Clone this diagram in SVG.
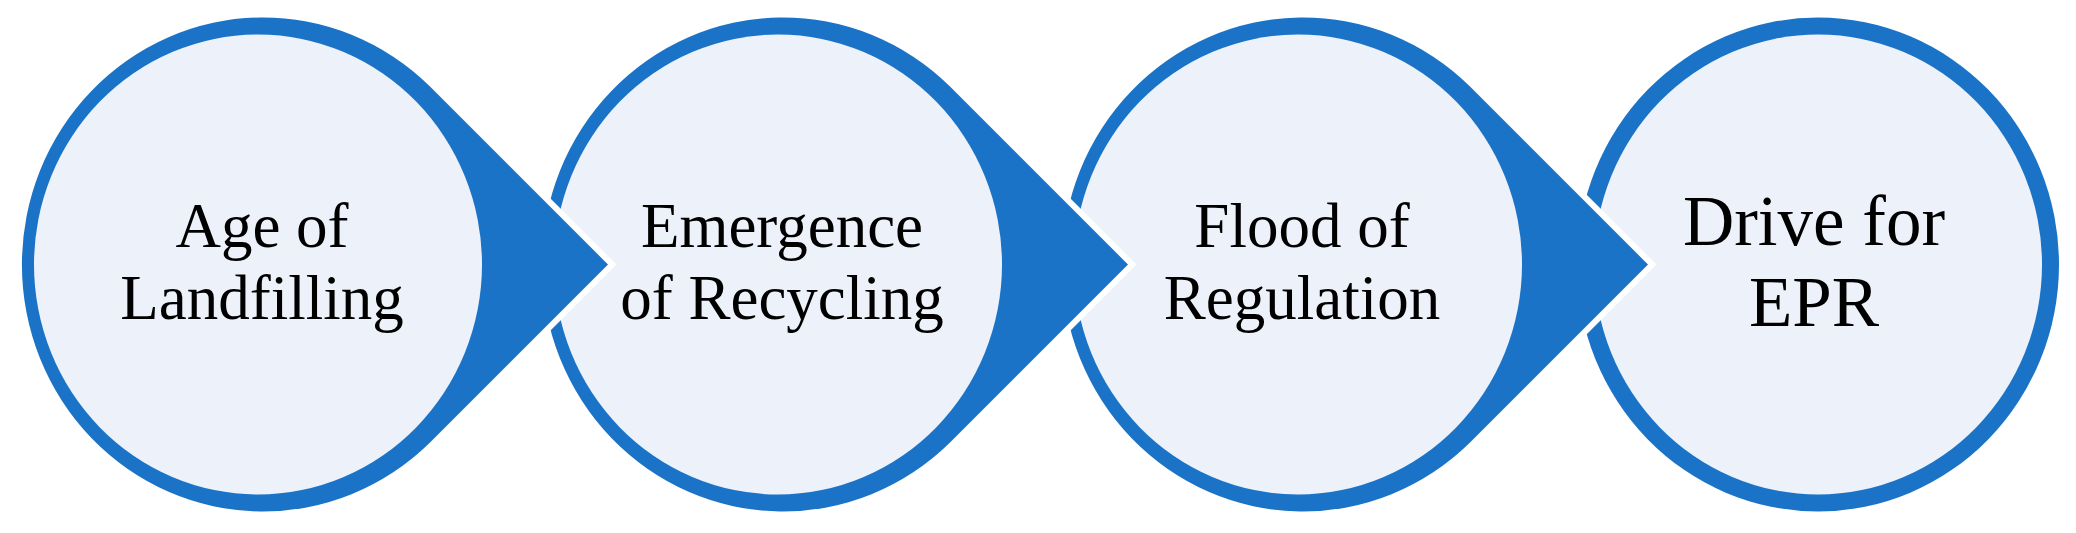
<svg xmlns="http://www.w3.org/2000/svg" width="2076" height="533" viewBox="0 0 2076 533">
<defs>
<path id="drop" d="M350,0 L172,-178 A241,247 0 1 0 172,178 Z"/>
</defs>
<style>
.dark{fill:#1a73c6;stroke:#fff;stroke-width:12;paint-order:stroke;stroke-linejoin:miter}
.ring{fill:#1a73c6}
.in{fill:#edf2fa}
text{font-family:"Liberation Serif","Times New Roman",serif;fill:#000;text-anchor:middle}
.t{font-size:63px}
.b{font-size:71px}
</style>
<rect width="2076" height="533" fill="#fff"/>
<g id="connectors"></g>
<g id="node4" transform="translate(1818,264.5)">
<ellipse class="ring" rx="241" ry="247"/>
<ellipse class="in" rx="224" ry="230"/>
<text class="b" x="-4" y="-20">Drive for</text><text class="b" x="-4" y="61">EPR</text>
</g>
<g id="node3" transform="translate(1298,264.5)">
<use href="#drop" class="dark"/>
<ellipse class="in" rx="224" ry="230"/>
<text class="t" x="4" y="-18">Flood of</text><text class="t" x="4" y="54">Regulation</text>
</g>
<g id="node2" transform="translate(778,264.5)">
<use href="#drop" class="dark"/>
<ellipse class="in" rx="224" ry="230"/>
<text class="t" x="4" y="-18">Emergence</text><text class="t" x="4" y="54">of Recycling</text>
</g>
<g id="node1" transform="translate(258,264.5)">
<use href="#drop" class="dark"/>
<ellipse class="in" rx="224" ry="230"/>
<text class="t" x="4" y="-18">Age of</text><text class="t" x="4" y="54">Landfilling</text>
</g>
</svg>
